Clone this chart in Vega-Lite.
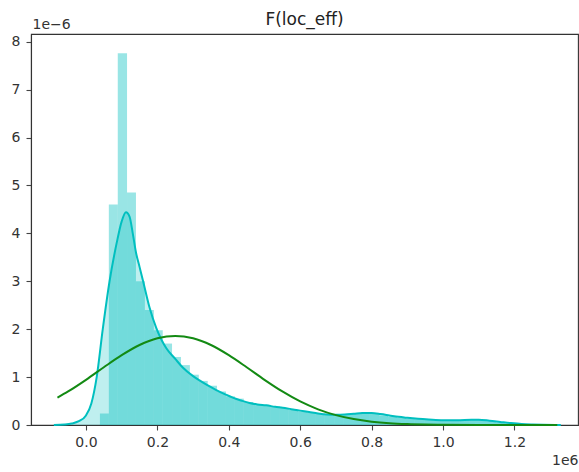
{
  "$schema": "https://vega.github.io/schema/vega-lite/v6.json",
  "autosize": "none",
  "width": 547,
  "height": 391,
  "padding": {"left": 31, "top": 34, "right": 1, "bottom": 47},
  "background": "white",
  "title": {"text": "F(loc_eff)", "font": "DejaVu Sans", "fontSize": 17, "fontWeight": "normal", "color": "#222", "offset": 0, "dy": 12, "anchor": "middle"},
  "config": {
    "view": {"stroke": "#333", "strokeWidth": 1.1},
    "axis": {"grid": false, "labelFont": "DejaVu Sans", "labelFontSize": 14, "labelColor": "#333", "tickColor": "#444", "tickSize": 5, "tickWidth": 1.1, "domainColor": "#333", "domainWidth": 1.1, "titleFont": "DejaVu Sans", "titleFontSize": 14, "titleFontWeight": "normal", "titleColor": "#333"}
  },
  "datasets": {
    "hist": [
      {"x0": 0.039, "x1": 0.064, "d": 0.24},
      {"x0": 0.064, "x1": 0.089, "d": 4.6},
      {"x0": 0.089, "x1": 0.115, "d": 7.76},
      {"x0": 0.115, "x1": 0.140, "d": 4.85},
      {"x0": 0.140, "x1": 0.165, "d": 3.0},
      {"x0": 0.165, "x1": 0.190, "d": 2.4},
      {"x0": 0.190, "x1": 0.215, "d": 1.98},
      {"x0": 0.215, "x1": 0.241, "d": 1.7},
      {"x0": 0.241, "x1": 0.266, "d": 1.42},
      {"x0": 0.266, "x1": 0.291, "d": 1.25},
      {"x0": 0.291, "x1": 0.316, "d": 1.05},
      {"x0": 0.316, "x1": 0.341, "d": 0.92},
      {"x0": 0.341, "x1": 0.367, "d": 0.82},
      {"x0": 0.367, "x1": 0.392, "d": 0.7},
      {"x0": 0.392, "x1": 0.417, "d": 0.6},
      {"x0": 0.417, "x1": 0.442, "d": 0.55},
      {"x0": 0.442, "x1": 0.468, "d": 0.48},
      {"x0": 0.468, "x1": 0.493, "d": 0.44},
      {"x0": 0.493, "x1": 0.518, "d": 0.42},
      {"x0": 0.518, "x1": 0.543, "d": 0.39},
      {"x0": 0.543, "x1": 0.568, "d": 0.36},
      {"x0": 0.568, "x1": 0.594, "d": 0.32},
      {"x0": 0.594, "x1": 0.619, "d": 0.28},
      {"x0": 0.619, "x1": 0.644, "d": 0.26},
      {"x0": 0.644, "x1": 0.669, "d": 0.24},
      {"x0": 0.669, "x1": 0.695, "d": 0.22},
      {"x0": 0.695, "x1": 0.720, "d": 0.2},
      {"x0": 0.720, "x1": 0.745, "d": 0.22},
      {"x0": 0.745, "x1": 0.770, "d": 0.24},
      {"x0": 0.770, "x1": 0.795, "d": 0.27},
      {"x0": 0.795, "x1": 0.821, "d": 0.25},
      {"x0": 0.821, "x1": 0.846, "d": 0.2},
      {"x0": 0.846, "x1": 0.871, "d": 0.17},
      {"x0": 0.871, "x1": 0.896, "d": 0.15},
      {"x0": 0.896, "x1": 0.921, "d": 0.13},
      {"x0": 0.921, "x1": 0.947, "d": 0.12},
      {"x0": 0.947, "x1": 0.972, "d": 0.11},
      {"x0": 0.972, "x1": 0.997, "d": 0.1},
      {"x0": 0.997, "x1": 1.022, "d": 0.1},
      {"x0": 1.022, "x1": 1.047, "d": 0.1},
      {"x0": 1.047, "x1": 1.073, "d": 0.11},
      {"x0": 1.073, "x1": 1.098, "d": 0.12},
      {"x0": 1.098, "x1": 1.123, "d": 0.11},
      {"x0": 1.123, "x1": 1.148, "d": 0.08},
      {"x0": 1.148, "x1": 1.173, "d": 0.05},
      {"x0": 1.173, "x1": 1.200, "d": 0.03}
    ],
    "kde": [
      {"x": -0.09, "y": 0.0},
      {"x": -0.06, "y": 0.01},
      {"x": -0.04, "y": 0.03},
      {"x": -0.02, "y": 0.08},
      {"x": 0.0, "y": 0.2},
      {"x": 0.015, "y": 0.45},
      {"x": 0.03, "y": 1.0},
      {"x": 0.047, "y": 2.0},
      {"x": 0.066, "y": 3.0},
      {"x": 0.086, "y": 3.8},
      {"x": 0.1, "y": 4.25},
      {"x": 0.112, "y": 4.44},
      {"x": 0.122, "y": 4.35},
      {"x": 0.131, "y": 4.0},
      {"x": 0.14, "y": 3.6},
      {"x": 0.15, "y": 3.3},
      {"x": 0.16, "y": 3.0},
      {"x": 0.178, "y": 2.45},
      {"x": 0.197, "y": 2.02},
      {"x": 0.21, "y": 1.8},
      {"x": 0.225, "y": 1.6},
      {"x": 0.25, "y": 1.38},
      {"x": 0.271, "y": 1.2},
      {"x": 0.3, "y": 1.02},
      {"x": 0.318, "y": 0.93},
      {"x": 0.34, "y": 0.83},
      {"x": 0.365, "y": 0.73},
      {"x": 0.39, "y": 0.64},
      {"x": 0.411, "y": 0.57},
      {"x": 0.435, "y": 0.51},
      {"x": 0.458, "y": 0.46},
      {"x": 0.48, "y": 0.43},
      {"x": 0.505, "y": 0.41},
      {"x": 0.53, "y": 0.38},
      {"x": 0.551, "y": 0.36},
      {"x": 0.575, "y": 0.33},
      {"x": 0.6, "y": 0.3},
      {"x": 0.625, "y": 0.27},
      {"x": 0.65, "y": 0.24},
      {"x": 0.675, "y": 0.22},
      {"x": 0.7, "y": 0.215},
      {"x": 0.725, "y": 0.22},
      {"x": 0.75, "y": 0.235},
      {"x": 0.775, "y": 0.25},
      {"x": 0.8, "y": 0.25},
      {"x": 0.825, "y": 0.23},
      {"x": 0.85, "y": 0.2},
      {"x": 0.875, "y": 0.17},
      {"x": 0.9, "y": 0.15},
      {"x": 0.93, "y": 0.13},
      {"x": 0.96, "y": 0.115},
      {"x": 1.0, "y": 0.1},
      {"x": 1.04, "y": 0.1},
      {"x": 1.08, "y": 0.11},
      {"x": 1.1, "y": 0.11},
      {"x": 1.13, "y": 0.09},
      {"x": 1.16, "y": 0.065},
      {"x": 1.19, "y": 0.04},
      {"x": 1.22, "y": 0.02},
      {"x": 1.25, "y": 0.01},
      {"x": 1.28, "y": 0.004},
      {"x": 1.33, "y": 0.0}
    ],
    "fit": [
      {"x": -0.08, "y": 0.57},
      {"x": -0.05, "y": 0.70},
      {"x": 0.0, "y": 0.943},
      {"x": 0.05, "y": 1.205},
      {"x": 0.1, "y": 1.457},
      {"x": 0.15, "y": 1.669},
      {"x": 0.2, "y": 1.81},
      {"x": 0.25, "y": 1.86},
      {"x": 0.3, "y": 1.81},
      {"x": 0.35, "y": 1.669},
      {"x": 0.4, "y": 1.457},
      {"x": 0.45, "y": 1.205},
      {"x": 0.5, "y": 0.943},
      {"x": 0.55, "y": 0.70},
      {"x": 0.6, "y": 0.491},
      {"x": 0.65, "y": 0.327},
      {"x": 0.7, "y": 0.206},
      {"x": 0.75, "y": 0.123},
      {"x": 0.8, "y": 0.07},
      {"x": 0.85, "y": 0.037},
      {"x": 0.9, "y": 0.019},
      {"x": 0.95, "y": 0.009},
      {"x": 1.0, "y": 0.004},
      {"x": 1.1, "y": 0.001},
      {"x": 1.2, "y": 0.0},
      {"x": 1.32, "y": 0.0}
    ]
  },
  "layer": [
    {
      "data": {"name": "hist"},
      "mark": {"type": "rect", "color": "#00bfbf", "opacity": 0.4},
      "encoding": {
        "x": {"field": "x0", "type": "quantitative", "scale": {"domain": [-0.154, 1.378], "nice": false, "zero": false},
          "axis": {"values": [0, 0.2, 0.4, 0.6, 0.8, 1.0, 1.2], "format": ".1f", "labelPadding": 5, "title": "1e6", "titleAlign": "right", "titleAnchor": null, "titleAngle": 0, "titleX": 547, "titleY": 42, "titleBaseline": "bottom"}},
        "x2": {"field": "x1"},
        "y": {"field": "d", "type": "quantitative", "scale": {"domain": [0, 8.16], "nice": false},
          "axis": {"values": [0, 1, 2, 3, 4, 5, 6, 7, 8], "format": "d", "labelPadding": 6, "title": "1e−6", "titleAngle": 0, "titleAlign": "left", "titleAnchor": null, "titleX": 1, "titleY": -3, "titleBaseline": "bottom"}},
        "y2": {"datum": 0}
      }
    },
    {
      "data": {"name": "kde"},
      "mark": {"type": "area", "color": "#00bfbf", "opacity": 0.25, "interpolate": "monotone"},
      "encoding": {
        "x": {"field": "x", "type": "quantitative"},
        "y": {"field": "y", "type": "quantitative"}
      }
    },
    {
      "data": {"name": "kde"},
      "mark": {"type": "line", "color": "#00bfbf", "strokeWidth": 2, "interpolate": "monotone"},
      "encoding": {
        "x": {"field": "x", "type": "quantitative"},
        "y": {"field": "y", "type": "quantitative"}
      }
    },
    {
      "data": {"name": "fit"},
      "mark": {"type": "line", "color": "#138a13", "strokeWidth": 2, "interpolate": "monotone"},
      "encoding": {
        "x": {"field": "x", "type": "quantitative"},
        "y": {"field": "y", "type": "quantitative"}
      }
    }
  ]
}
